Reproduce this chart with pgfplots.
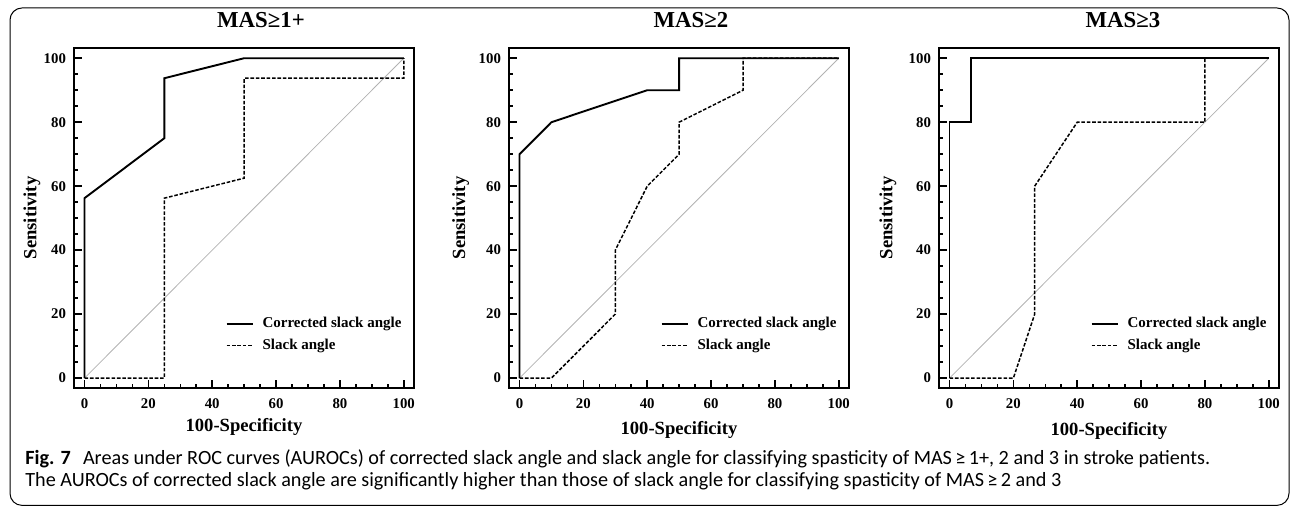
\documentclass[border=0pt]{standalone}
\usepackage{fontspec}
\setmainfont{Liberation Serif}
\newfontfamily\capfont{Carlito}
\usepackage{pgfplots}
\pgfplotsset{compat=1.18}

\pgfplotsset{
  rocpanel/.style={
    width=170pt, height=170pt, scale only axis,
    anchor=south west,
    xmin=-3.3, xmax=103.2, ymin=-3.1, ymax=103.2,
    xtick={0,20,...,100}, ytick={0,20,...,100},
    minor tick num=3,
    tick pos=left, tick align=inside,
    major tick length=4pt, minor tick length=2pt,
    tick style={black, line width=0.8pt},
    axis line style={line width=1.1pt},
    /pgf/number format/assume math mode=true,
    ticklabel style={font=\fontsize{7.4}{8}\selectfont\bfseries},
    xticklabel style={yshift=-2pt},
    yticklabel style={xshift=-0.5pt},
    xlabel={100-Specificity}, ylabel={Sensitivity},
    label style={font=\fontsize{9.3}{10}\selectfont\bfseries},
    title style={font=\fontsize{11.4}{12}\selectfont\bfseries, anchor=base},
    legend style={draw=none, fill=none, at={(axis description cs:0.445,0.222)},
      anchor=north west, font=\fontsize{7.5}{8}\selectfont\bfseries,
      row sep=0.2pt, inner sep=0pt, cells={anchor=west}},
    legend image code/.code={\draw[##1] (0pt,0pt) -- (13pt,0pt); \path (15.5pt,0pt);},
  },
  corr/.style={black, line width=0.95pt},
  slack/.style={black, line width=0.75pt, dash pattern=on 1.8pt off 0.9pt},
  chance/.style={gray!60, line width=0.4pt, forget plot},
}

\begin{document}
\begin{tikzpicture}
\path[use as bounding box] (0,0) rectangle (646pt,253pt);
\draw[line width=0.5pt, rounded corners=6pt] (5pt,0.3pt) rectangle (644.5pt,249pt);

% MAS >= 1+
\begin{axis}[rocpanel, at={(37pt,59pt)},
  title={MAS≥1+}, title style={at={(axis description cs:0.55,1)}, yshift=4.25pt},
  xlabel style={at={(axis description cs:0.5,0)}, anchor=base, yshift=-21.75pt},
  ylabel style={at={(axis description cs:-0.1235,0.5)}, anchor=center}]
\addplot[chance] coordinates {(0,0)(100,100)};
\addplot[corr] coordinates {(0,0)(0,56.25)(25,75)(25,93.75)(50,100)(100,100)};
\addlegendentry{Corrected slack angle}
\addplot[slack] coordinates {(0,0)(25,0)(25,56.25)(50,62.5)(50,93.75)(100,93.75)(100,100)};
\addlegendentry{Slack angle}
\end{axis}

% MAS >= 2
\begin{axis}[rocpanel, at={(254.5pt,59pt)},
  title={MAS≥2}, title style={at={(axis description cs:0.535,1)}, yshift=4.25pt},
  xlabel style={at={(axis description cs:0.5,0)}, anchor=base, yshift=-23.25pt},
  ylabel style={at={(axis description cs:-0.142,0.5)}, anchor=center}]
\addplot[chance] coordinates {(0,0)(100,100)};
\addplot[corr] coordinates {(0,0)(0,70)(10,80)(40,90)(50,90)(50,100)(100,100)};
\addlegendentry{Corrected slack angle}
\addplot[slack] coordinates {(0,0)(10,0)(30,20)(30,40)(40,60)(50,70)(50,80)(70,90)(70,100)(100,100)};
\addlegendentry{Slack angle}
\end{axis}

% MAS >= 3
\begin{axis}[rocpanel, at={(469.5pt,59pt)},
  title={MAS≥3}, title style={at={(axis description cs:0.541,1)}, yshift=4.25pt},
  xlabel style={at={(axis description cs:0.5,0)}, anchor=base, yshift=-23.75pt},
  ylabel style={at={(axis description cs:-0.15,0.5)}, anchor=center}]
\addplot[chance] coordinates {(0,0)(100,100)};
\addplot[corr] coordinates {(0,0)(0,80)(6.67,80)(6.67,100)(100,100)};
\addlegendentry{Corrected slack angle}
\addplot[slack] coordinates {(0,0)(20,0)(26.67,20)(26.67,60)(40,80)(80,80)(80,100)(100,100)};
\addlegendentry{Slack angle}
\end{axis}

\node[anchor=base west, inner sep=0pt, font=\capfont\fontsize{10.1}{11}\selectfont]
  at (12.5pt,20.75pt) {\textbf{Fig. 7}\hspace{0.6em}Areas under ROC curves (AUROCs) of corrected slack angle and slack angle for classifying spasticity of MAS\,≥\,1+, 2 and 3 in stroke patients.};
\node[anchor=base west, inner sep=0pt, font=\capfont\fontsize{10.1}{11}\selectfont]
  at (12.5pt,9.75pt) {The AUROCs of corrected slack angle are significantly higher than those of slack angle for classifying spasticity of MAS\,≥\,2 and 3};
\end{tikzpicture}
\end{document}
